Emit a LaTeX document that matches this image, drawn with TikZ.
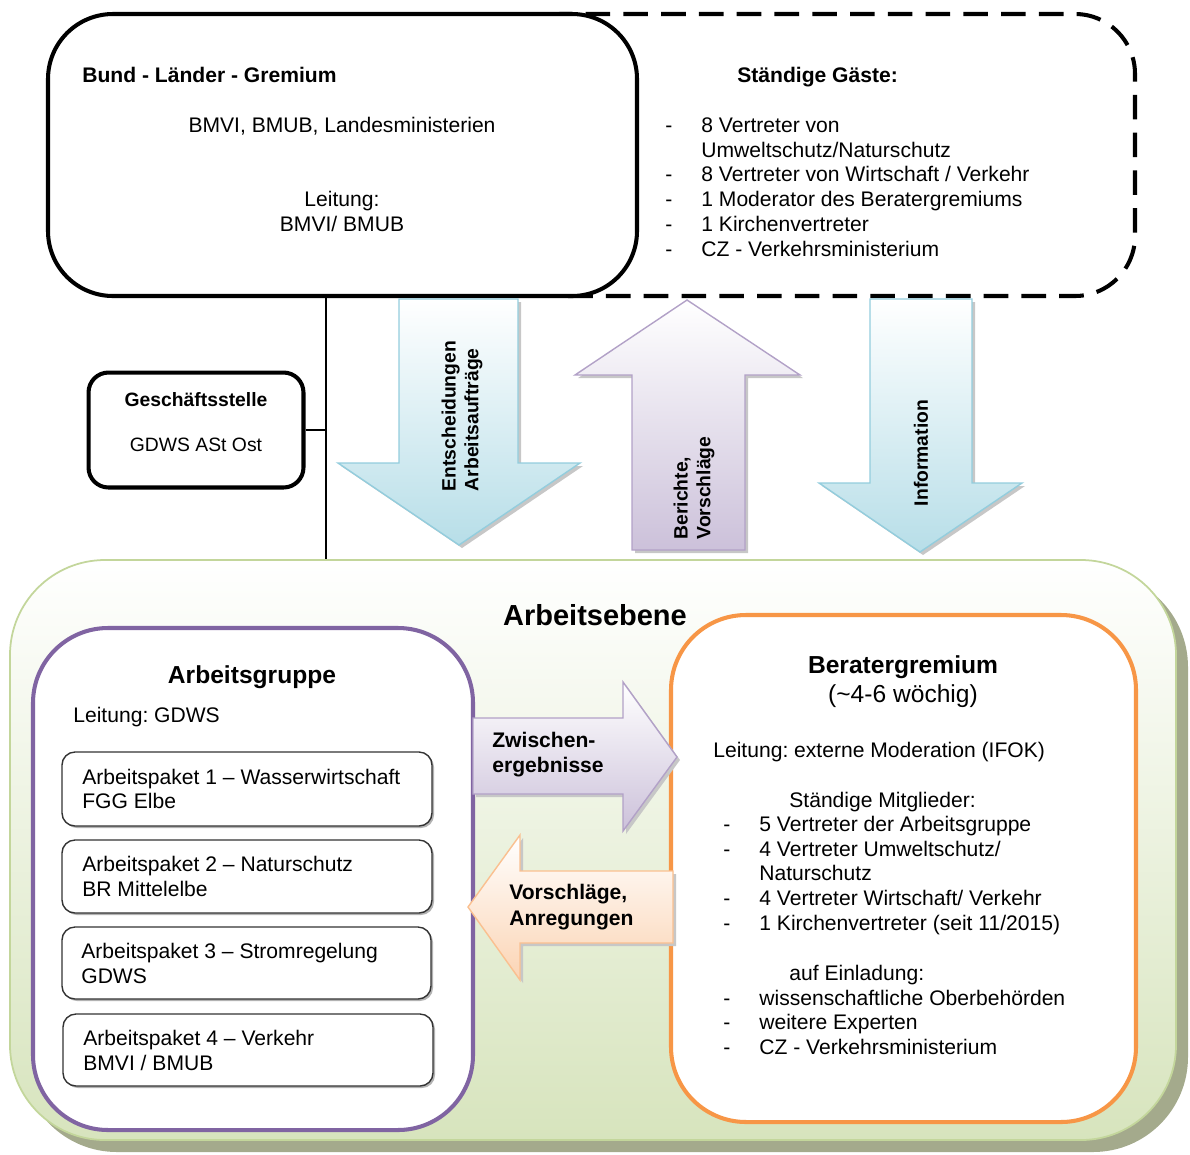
\documentclass[tikz,border=0pt]{standalone}
\usepackage{fontspec}
\setmainfont{Liberation Sans}
\frenchspacing
\definecolor{blueline}{HTML}{93CDDD}
\definecolor{bluefill}{HTML}{B7DEE8}
\definecolor{lilaline}{HTML}{B2A1C7}
\definecolor{lilafill}{HTML}{CCC1DA}
\definecolor{orangeline}{HTML}{FAC090}
\definecolor{orangefill}{HTML}{FBD4B4}
\definecolor{greenline}{HTML}{C3D69B}
\definecolor{greenfill}{HTML}{D7E4BD}
\definecolor{greenshadow}{HTML}{A4AA8C}
\definecolor{agline}{HTML}{8064A2}
\definecolor{bgline}{HTML}{F79646}
\def\strich{\makebox[20.5pt][l]{-}}

\begin{document}
\begin{tikzpicture}[x=0.02cm, y=-0.02cm,
	plaintext/.style={inner sep=0pt, font=\fontsize{12}{14}\selectfont},
	boldtext/.style={inner sep=0pt, font=\fontsize{12}{14}\selectfont\bfseries},
	headtext/.style={inner sep=0pt, font=\fontsize{14}{16}\selectfont\bfseries},
	pfeiltext/.style={inner sep=0pt, font=\fontsize{11}{13}\selectfont\bfseries, align=left},
	apbox/.style={draw=black!80, line width=0.8pt, fill=white, rounded corners=0.26cm},
	pfeilschatten/.style={fill=black!22},
	bluearrow/.style={draw=blueline, line width=0.8pt, top color=white, bottom color=bluefill},
	lilaarrow/.style={draw=lilaline, line width=0.8pt, top color=white, bottom color=lilafill},
	orangearrow/.style={draw=orangeline, line width=0.8pt, top color=white, bottom color=orangefill}]
			%%%%% START %%%%%
			\useasboundingbox (0,0) rectangle (1190,1154);
			
			% Bund-Laender-Gremium und Gaeste
			\draw[line width=2.3pt, dash pattern=on 14pt off 7.5pt, rounded corners=1.2cm] (500,14) rectangle (1135,296);
			\draw[line width=2.3pt, fill=white, rounded corners=1.3cm] (48,14) rectangle (637,296);
			
			\node[boldtext, anchor=base west] (bundtitel) at (82,82) {Bund - Länder - Gremium};
			\node[plaintext, anchor=base] (bundmitglieder) at (342,132) {BMVI, BMUB, Landesministerien};
			\node[plaintext, anchor=base] (bundleitung) at (342,206) {Leitung:};
			\node[plaintext, anchor=base] (bundleiter) at (342,231) {BMVI/ BMUB};
			
			\node[boldtext, anchor=base west] (gaestetitel) at (737,82) {Ständige Gäste:};
			\node[plaintext, anchor=base west] (gast1) at (665,132) {\strich 8 Vertreter von};
			\node[plaintext, anchor=base west] (gast1b) at (701,157) {Umweltschutz/Naturschutz};
			\node[plaintext, anchor=base west] (gast2) at (665,181) {\strich 8 Vertreter von Wirtschaft / Verkehr};
			\node[plaintext, anchor=base west] (gast3) at (665,206) {\strich 1 Moderator des Beratergremiums};
			\node[plaintext, anchor=base west] (gast4) at (665,231) {\strich 1 Kirchenvertreter};
			\node[plaintext, anchor=base west] (gast5) at (665,256) {\strich CZ - Verkehrsministerium};
			
			% Geschaeftsstelle
			\coordinate (stemtop) at (326,296);
			\coordinate (stembot) at (326,560);
			\node[draw, line width=2.3pt, fill=white, rounded corners=0.4cm, minimum width=4.3cm, minimum height=2.3cm] (gs) at (196,430) {};
			\node[inner sep=0pt, font=\fontsize{11}{13}\selectfont\bfseries, anchor=base] (gstitel) at (196,406) {Geschäftsstelle};
			\node[inner sep=0pt, font=\fontsize{11}{13}\selectfont, anchor=base] (gsname) at (196,451) {GDWS ASt Ost};
			\draw[line width=1.4pt] (stemtop) -- (stembot);
			\draw[line width=1.4pt] (gs.east) -- (gs.east -| stemtop);
			
			% Pfeile oben
			\fill[pfeilschatten] (402,302) -- (521,302) -- (521,466) -- (583,466) -- (462,548) -- (341,466) -- (402,466) -- cycle;
			\draw[bluearrow] (399,299) -- (518,299) -- (518,463) -- (580,463) -- (459,545) -- (338,463) -- (399,463) -- cycle;
			\node[pfeiltext, rotate=90] (entscheidungen) at (462,416) {Entscheidungen\\Arbeitsaufträge};
			
			\fill[pfeilschatten] (690,303) -- (803,378) -- (748,378) -- (748,553) -- (635,553) -- (635,378) -- (578,378) -- cycle;
			\draw[lilaarrow] (687,300) -- (800,375) -- (745,375) -- (745,550) -- (632,550) -- (632,375) -- (575,375) -- cycle;
			\node[pfeiltext, rotate=90] (berichte) at (694,488) {Berichte,\\Vorschläge};
			
			\fill[pfeilschatten] (873,302) -- (975,302) -- (975,486) -- (1025,486) -- (923,555) -- (822,486) -- (873,486) -- cycle;
			\draw[bluearrow] (870,299) -- (972,299) -- (972,483) -- (1022,483) -- (920,552) -- (819,483) -- (870,483) -- cycle;
			\node[pfeiltext, rotate=90] (information) at (921,453) {Information};
			
			% Arbeitsebene
			\fill[greenshadow, rounded corners=1.9cm] (22,572) rectangle (1188,1152);
			\draw[greenline, line width=1pt, top color=white, bottom color=greenfill, rounded corners=1.9cm] (10,560) rectangle (1176,1140);
			\node[inner sep=0pt, font=\fontsize{16.5}{19}\selectfont\bfseries, anchor=base] (ebene) at (595,625) {Arbeitsebene};
			
			% Arbeitsgruppe
			\draw[agline, line width=2.3pt, fill=white, rounded corners=1.5cm] (33,628) rectangle (473,1130);
			\node[headtext, anchor=base] (agtitel) at (252,683) {Arbeitsgruppe};
			\node[plaintext, anchor=base west] (agleitung) at (73,722) {Leitung: GDWS};
			
			\fill[black!30, rounded corners=0.26cm] (64,754) rectangle (434,828);
			\draw[apbox] (62,752) rectangle (432,826);
			\node[plaintext, anchor=base west] (ap1) at (82,784) {Arbeitspaket 1 -- Wasserwirtschaft};
			\node[plaintext, anchor=base west] (ap1b) at (82,808) {FGG Elbe};
			
			\fill[black!30, rounded corners=0.26cm] (64,842) rectangle (434,915);
			\draw[apbox] (62,840) rectangle (432,913);
			\node[plaintext, anchor=base west] (ap2) at (82,871) {Arbeitspaket 2 -- Naturschutz};
			\node[plaintext, anchor=base west] (ap2b) at (82,896) {BR Mittelelbe};
			
			\fill[black!30, rounded corners=0.26cm] (64,929) rectangle (433,1001);
			\draw[apbox] (62,927) rectangle (431,999);
			\node[plaintext, anchor=base west] (ap3) at (81,958) {Arbeitspaket 3 -- Stromregelung};
			\node[plaintext, anchor=base west] (ap3b) at (81,983) {GDWS};
			
			\fill[black!30, rounded corners=0.26cm] (65,1016) rectangle (435,1088);
			\draw[apbox] (63,1014) rectangle (433,1086);
			\node[plaintext, anchor=base west] (ap4) at (83,1045) {Arbeitspaket 4 -- Verkehr};
			\node[plaintext, anchor=base west] (ap4b) at (83,1070) {BMVI / BMUB};
			
			% Beratergremium
			\draw[bgline, line width=2.3pt, fill=white, rounded corners=1.5cm] (671,615) rectangle (1136,1122);
			\node[headtext, anchor=base] (bgtitel) at (903,673) {Beratergremium};
			\node[inner sep=0pt, font=\fontsize{14}{16}\selectfont, anchor=base] (bgturnus) at (903,702) {(\textasciitilde 4-6 wöchig)};
			\node[plaintext, anchor=base west] (bgleitung) at (713,757) {Leitung: externe Moderation (IFOK)};
			\node[plaintext, anchor=base west] (mitglieder) at (789,807) {Ständige Mitglieder:};
			\node[plaintext, anchor=base west] (mitglied1) at (723,831) {\strich 5 Vertreter der Arbeitsgruppe};
			\node[plaintext, anchor=base west] (mitglied2) at (723,856) {\strich 4 Vertreter Umweltschutz/};
			\node[plaintext, anchor=base west] (mitglied2b) at (759,880) {Naturschutz};
			\node[plaintext, anchor=base west] (mitglied3) at (723,905) {\strich 4 Vertreter Wirtschaft/ Verkehr};
			\node[plaintext, anchor=base west] (mitglied4) at (723,930) {\strich 1 Kirchenvertreter (seit 11/2015)};
			\node[plaintext, anchor=base west] (einladung) at (789,980) {auf Einladung:};
			\node[plaintext, anchor=base west] (gast6) at (723,1005) {\strich wissenschaftliche Oberbehörden};
			\node[plaintext, anchor=base west] (gast7) at (723,1029) {\strich weitere Experten};
			\node[plaintext, anchor=base west] (gast8) at (723,1054) {\strich CZ - Verkehrsministerium};
			
			% Pfeile zwischen Arbeitsgruppe und Beratergremium
			\fill[pfeilschatten] (476,721) -- (626,721) -- (626,685) -- (680,760) -- (626,834) -- (626,797) -- (476,797) -- cycle;
			\draw[lilaarrow] (473,718) -- (623,718) -- (623,682) -- (677,757) -- (623,831) -- (623,794) -- (473,794) -- cycle;
			\node[boldtext, anchor=base west] (zwischen) at (492,747) {Zwischen-};
			\node[boldtext, anchor=base west] (zwischenb) at (492,772) {ergebnisse};
			
			\fill[pfeilschatten] (676,874) -- (523,874) -- (523,838) -- (471,910) -- (523,983) -- (523,946) -- (676,946) -- cycle;
			\draw[orangearrow] (673,871) -- (520,871) -- (520,835) -- (468,907) -- (520,980) -- (520,943) -- (673,943) -- cycle;
			\node[boldtext, anchor=base west] (vorschlaege) at (509,899) {Vorschläge,};
			\node[boldtext, anchor=base west] (vorschlaegeb) at (509,925) {Anregungen};
			
			%%%%% END %%%%%
\end{tikzpicture}
\end{document}
